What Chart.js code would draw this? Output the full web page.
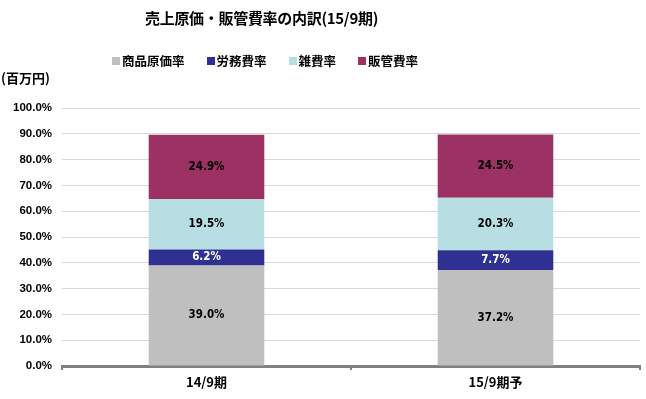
<!DOCTYPE html>
<html>
<head>
<meta charset="utf-8">
<script src="https://cdn.jsdelivr.net/npm/chart.js@4/dist/chart.umd.min.js"></script>
<style>
  body { margin: 0; background: #fff; }
  #wrap { position: relative; width: 646px; height: 399px; }
  #title { position: absolute; top: 7px; left: 145px; font: bold 15px "Noto Sans CJK JP"; color: #000; white-space: nowrap; letter-spacing: -0.3px; }
  #unit { position: absolute; top: 68px; left: 1px; font: bold 13px "Noto Sans CJK JP"; color: #000; }
  #legend { position: absolute; top: 51px; left: 112px; font: bold 12.5px "Noto Sans CJK JP"; color: #000; white-space: nowrap; }
  #legend span.item { margin-right: 22px; }
  #legend span.box { display: inline-block; width: 8px; height: 8px; margin-right: 2px; vertical-align: 1px; }
</style>
</head>
<body>
<div id="wrap">
  <canvas id="costChart" width="646" height="399"></canvas>
  <div id="title">売上原価・販管費率の内訳(15/9期)</div>
  <div id="unit">(百万円)</div>
  <div id="legend"></div>
</div>
<script>
const periods = ["14/9期", "15/9期予"];
const seriesNames = ["商品原価率", "労務費率", "雑費率", "販管費率"];
const merchandise = [39.0, 37.2];
const labor = [6.2, 7.7];
const misc = [19.5, 20.3];
const sga = [24.9, 24.5];
const yTicks = [0, 10, 20, 30, 40, 50, 60, 70, 80, 90, 100];

const colors = ["#bfbfbf", "#2e3192", "#b7dfe3", "#9b3263"];
const labelColors = ["#000", "#fff", "#000", "#000"];
const values = [merchandise, labor, misc, sga];

document.getElementById("legend").innerHTML = seriesNames.map(function (name, i) {
    return '<span class="item"><span class="box" style="background:' + colors[i] + '"></span>' + name + '</span>';
}).join("");

const barLabels = {
    id: "barLabels",
    afterDatasetsDraw(chart) {
        const ctx = chart.ctx;
        ctx.save();
        ctx.font = "bold 11.5px 'DejaVu Sans Condensed'";
        ctx.textAlign = "center";
        ctx.textBaseline = "middle";
        chart.data.datasets.forEach(function (ds, i) {
            chart.getDatasetMeta(i).data.forEach(function (bar, j) {
                ctx.fillStyle = labelColors[i];
                ctx.fillText(ds.data[j].toFixed(1) + "%", bar.x, (bar.y + bar.base) / 2);
            });
        });
        ctx.restore();
    }
};

new Chart(document.getElementById("costChart"), {
    type: "bar",
    data: {
        labels: periods,
        datasets: seriesNames.map(function (name, i) {
            return {
                label: name,
                data: values[i],
                backgroundColor: colors[i],
                barPercentage: 0.4,
                categoryPercentage: 1.0
            };
        })
    },
    options: {
        responsive: false,
        animation: false,
        layout: { padding: { top: 108, right: 6, left: 0, bottom: 0 } },
        plugins: {
            legend: { display: false },
            title: { display: false },
            tooltip: { enabled: false }
        },
        scales: {
            x: {
                stacked: true,
                afterFit: function (s) { s.height = 33; },
                grid: { offset: true, drawOnChartArea: false, drawTicks: true, tickLength: 4, color: "#808080", lineWidth: 2 },
                border: { display: true, color: "#808080", width: 3 },
                ticks: { color: "#000", font: { family: "Noto Sans CJK JP", size: 13, weight: "bold" }, padding: 4 }
            },
            y: {
                stacked: true,
                min: 0,
                max: 100,
                afterFit: function (s) { s.width = 62; },
                afterBuildTicks: function (s) { s.ticks = yTicks.map(function (v) { return { value: v }; }); },
                grid: { color: "#d9d9d9", lineWidth: 1, drawTicks: false },
                border: { display: false },
                ticks: {
                    color: "#000",
                    padding: 10,
                    font: { family: "Liberation Sans", size: 11.5, weight: "bold" },
                    callback: function (v) { return v.toFixed(1) + "%"; }
                }
            }
        }
    },
    plugins: [barLabels]
});
</script>
</body>
</html>
